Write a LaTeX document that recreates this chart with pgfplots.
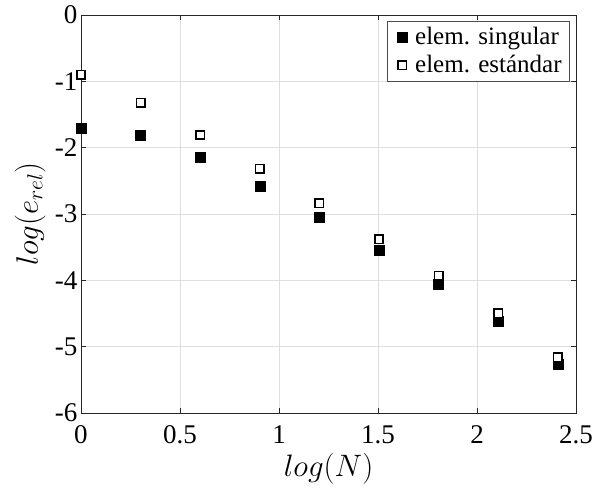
\RequirePackage{fix-cm}
\documentclass[border=0pt]{standalone}
\usepackage{fontspec}
\setmainfont{Liberation Serif}
\usepackage{pgfplots}
\pgfplotsset{compat=1.18}

\begin{document}
\begin{tikzpicture}
\begin{axis}[
  scale only axis,
  width=495pt, height=398pt,
  xmin=0, xmax=2.5, ymin=-6, ymax=0,
  xtick={0,0.5,1,1.5,2,2.5},
  ytick={-6,-5,-4,-3,-2,-1,0},
  xticklabels={0,0.5,1,1.5,2,2.5},
  yticklabels={-6,-5,-4,-3,-2,-1,0},
  tick label style={font=\fontsize{27}{27}\selectfont},
  xticklabel style={yshift=-9pt},
  yticklabel style={xshift=0pt},
  xlabel={$log(N)$}, ylabel={$log(e_{rel})$},
  label style={font=\fontsize{31}{31}\selectfont},
  xlabel style={at={(axis description cs:0.5,-0.14)}, anchor=center},
  ylabel style={at={(axis description cs:-0.103,0.5)}, anchor=center},
  grid=major, grid style={black!13, line width=0.7pt},
  axis line style={black!85, line width=0.7pt},
  tick style={black!85, line width=0.7pt},
  tick align=inside, major tick length=5pt,
  xtick pos=both, ytick pos=both,
  legend image code/.code={%
    \path[draw=none, fill=none] (-4pt,-1pt) rectangle (11pt,1pt);
    \draw[#1] plot coordinates {(3pt,0pt)};},
  legend style={at={(axis description cs:1,1)}, xshift=-6pt, yshift=-6pt,
    anchor=north east,
    font=\fontsize{25}{28}\selectfont, draw=black!70, line width=0.7pt,
    inner xsep=8pt, inner ysep=3pt, row sep=2pt, column sep=5pt,
    nodes={inner xsep=0pt, inner ysep=2pt, text height=18pt, text depth=4pt},
    cells={anchor=west}},
  legend cell align=left,
]
\addplot[only marks, mark=square*, mark size=5pt, black]
  coordinates {(0,-1.71) (0.301,-1.81) (0.602,-2.15) (0.903,-2.58)
    (1.204,-3.05) (1.505,-3.55) (1.806,-4.06) (2.107,-4.62) (2.408,-5.27)};
\addlegendentry{elem. singular}
\addplot[only marks, mark=square*, mark size=4.2pt, black, line width=1.6pt,
  mark options={fill=white}]
  coordinates {(0,-0.90) (0.301,-1.32) (0.602,-1.81) (0.903,-2.32)
    (1.204,-2.84) (1.505,-3.38) (1.806,-3.93) (2.107,-4.50) (2.408,-5.16)};
\addlegendentry{elem. estándar}
\end{axis}
\pgfresetboundingbox
\path[use as bounding box]
  ([shift={(-81pt,-76pt)}]current axis.south west)
  rectangle ([shift={(28pt,15pt)}]current axis.north east);
\end{tikzpicture}
\end{document}
